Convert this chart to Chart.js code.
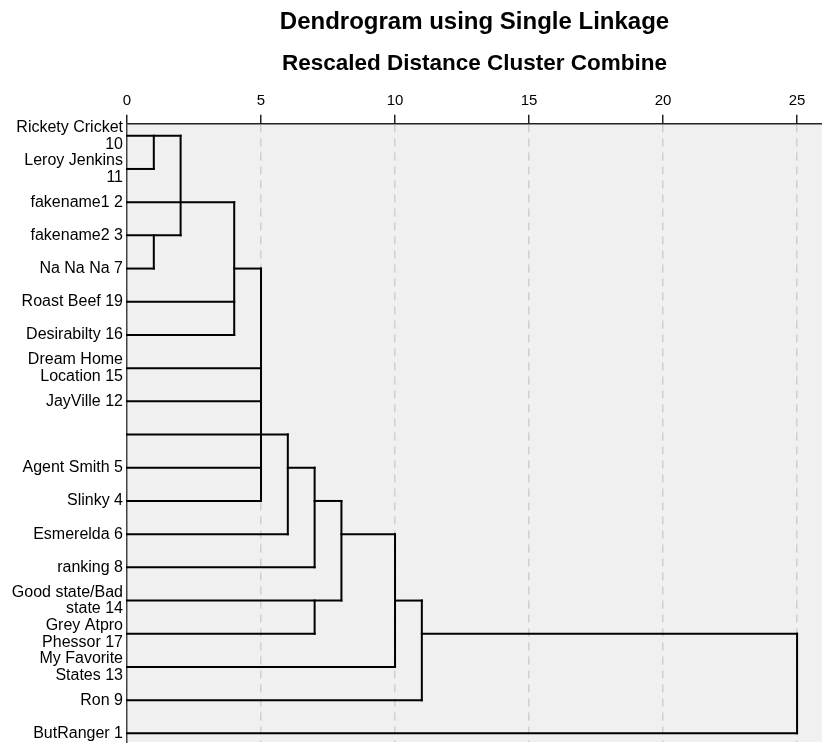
<!DOCTYPE html>
<html><head><meta charset="utf-8">
<script src="https://cdn.jsdelivr.net/npm/chart.js@4.4.0/dist/chart.umd.min.js"></script>
<style>html,body{margin:0;padding:0;background:#fff}#wrap{width:822px;height:745px;position:relative}</style>
</head><body><div id="wrap"><canvas id="c"></canvas></div>
<script>
// Leaf labels, top to bottom
const LABELS = [["Rickety Cricket","10"],["Leroy Jenkins","11"],"fakename1 2","fakename2 3","Na Na Na 7","Roast Beef 19","Desirabilty 16",["Dream Home","Location 15"],"JayVille 12","","Agent Smith 5","Slinky 4","Esmerelda 6","ranking 8",["Good state/Bad","state 14"],["Grey Atpro","Phessor 17"],["My Favorite","States 13"],"Ron 9","ButRanger 1"];
// Rescaled distance at which each leaf's line ends
const LEAF_END = [2,1,4,2,1,4,4,5,5,6,5,5,6,7,8,7,10,11,25];
// Cluster connector lines (row, from distance, to distance)
const LINK_ROW  = [4,10,11,12,14,15];
const LINK_FROM = [4,6,7,8,10,11];
const LINK_TO   = [5,7,8,10,11,25];
// Merge verticals (distance, top row, bottom row)
const MERGE_X      = [1,1,2,4,5,6,7,8,7,10,11,25];
const MERGE_TOP    = [0,3,0,2,4,9,10,11,14,12,14,15];
const MERGE_BOTTOM = [1,4,3,6,11,12,13,14,15,16,17,18];
const X_TICKS = [0,5,10,15,20,25];

Chart.defaults.font.family = "'Liberation Sans', Arial, sans-serif";
Chart.defaults.color = '#000';

const segs = [];
LEAF_END.forEach((e,i)=>segs.push([{x:0,y:i},{x:e,y:i}]));
LINK_ROW.forEach((r,i)=>segs.push([{x:LINK_FROM[i],y:r},{x:LINK_TO[i],y:r}]));
MERGE_X.forEach((x,i)=>segs.push([{x:x,y:MERGE_TOP[i]},{x:x,y:MERGE_BOTTOM[i]}]));

const datasets = segs.map(d=>({data:d, showLine:true, borderColor:'#000', borderWidth:2, pointRadius:0, borderCapStyle:'square', fill:false, clip:false}));

const bgPlugin = {id:'bg', beforeDraw(chart){const a=chart.chartArea,c=chart.ctx;c.save();c.fillStyle='#fff';c.fillRect(0,0,chart.width,chart.height);c.fillStyle='#f0f0f0';c.fillRect(a.left,a.top,a.right-a.left,a.bottom-a.top);c.restore();}};

new Chart(document.getElementById('c'), {
  type:'scatter',
  data:{datasets},
  plugins:[bgPlugin],
  options:{
    responsive:true, maintainAspectRatio:false, animation:false, events:[],
    layout:{padding:{left:0,right:0,top:0,bottom:3}},
    plugins:{
      legend:{display:false}, tooltip:{enabled:false},
      title:{display:true, text:'Dendrogram using Single Linkage', fullSize:false, color:'#000', font:{size:24, weight:'bold', lineHeight:1.2}, padding:{top:8,bottom:7}},
      subtitle:{display:true, text:'Rescaled Distance Cluster Combine', fullSize:false, color:'#000', font:{size:22.5, weight:'bold', lineHeight:1.2}, padding:{top:6,bottom:10}}
    },
    scales:{
      x:{type:'linear', position:'top', min:0, max:25.93,
        afterBuildTicks:s=>{s.ticks=X_TICKS.map(v=>({value:v}));},
        afterFit:s=>{s.paddingLeft=0;s.paddingRight=0;},
        ticks:{color:'#000', font:{size:15}, padding:5, maxRotation:0, autoSkip:false},
        grid:{color:c=>(c.tick&&c.tick.value===0)?'rgba(0,0,0,0)':'#cfcfcf', lineWidth:1.5, tickColor:'#222', tickLength:9, tickWidth:1.5},
        border:{display:true, color:'#222', width:1.5, dash:[8,6]}
      },
      y:{type:'linear', reverse:true, min:-0.36, max:18.26,
        afterBuildTicks:s=>{s.ticks=LABELS.map((_,i)=>({value:i}));},
        afterFit:s=>{s.width=127;s.paddingTop=0;s.paddingBottom=0;},
        ticks:{autoSkip:false, color:'#000', font:{size:16, lineHeight:1.05}, padding:4, callback:v=>LABELS[v]},
        grid:{display:false, drawTicks:false},
        border:{display:true, color:'#444', width:1.5}
      }
    }
  }
});
</script></body></html>
